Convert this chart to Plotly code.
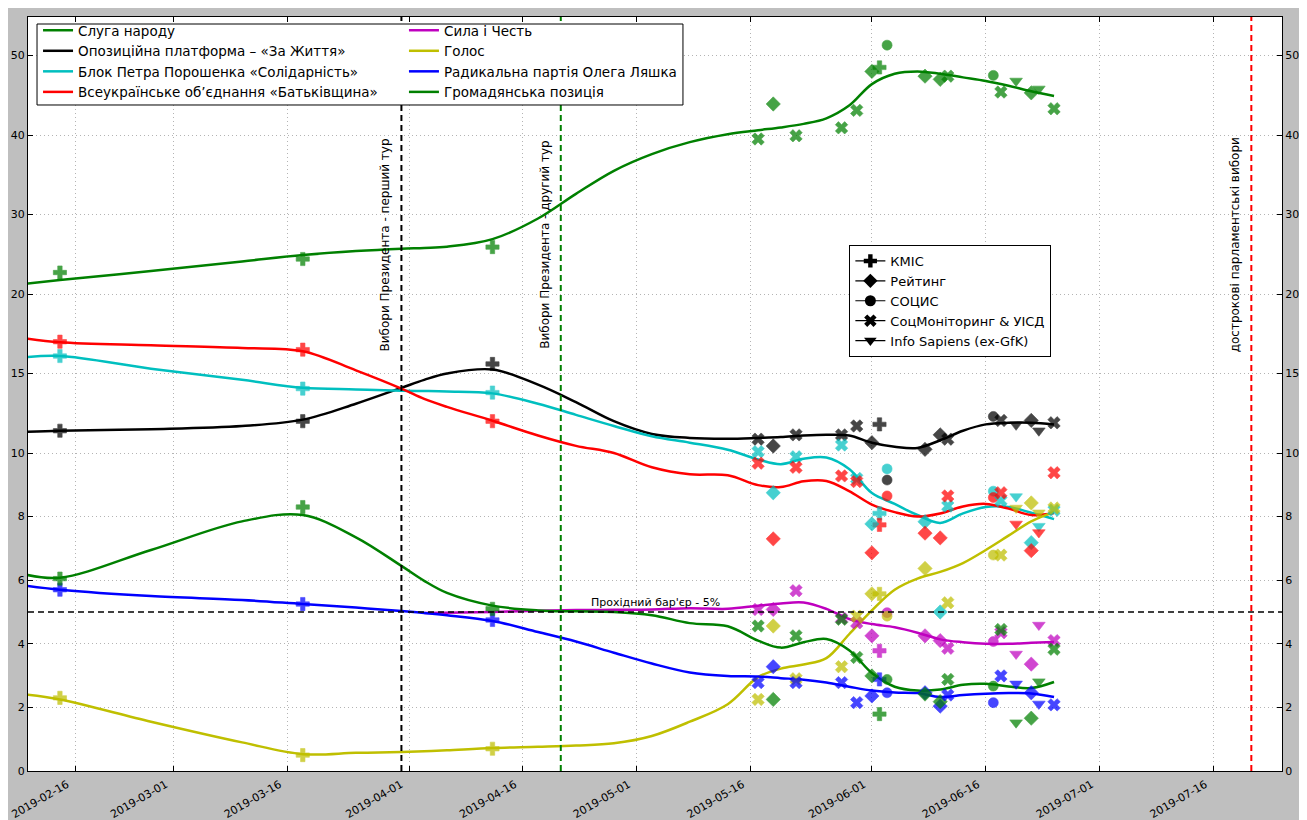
import plotly.graph_objects as go

# ---------------- data ----------------
parties = [
    "Слуга народу",
    "Опозиційна платформа – «За Життя»",
    "Блок Петра Порошенка «Солідарність»",
    "Всеукраїнське об’єднання «Батьківщина»",
    "Сила і Честь",
    "Голос",
    "Радикальна партія Олега Ляшка",
    "Громадянська позиція",
]
colors = ["#008000", "#000000", "#00BFBF", "#FF0000", "#BF00BF", "#BFBF00", "#0000FF", "#008000"]

line_dates = ["2019-02-09", "2019-02-14", "2019-02-26", "2019-03-10", "2019-03-18", "2019-03-25",
              "2019-03-31", "2019-04-03", "2019-04-06", "2019-04-12", "2019-04-18", "2019-04-23",
              "2019-04-28", "2019-05-03", "2019-05-08", "2019-05-13", "2019-05-17", "2019-05-20",
              "2019-05-23", "2019-05-26", "2019-05-29", "2019-06-01", "2019-06-04", "2019-06-07",
              "2019-06-10", "2019-06-13", "2019-06-16", "2019-06-19", "2019-06-22", "2019-06-25"]

line_sluha = [21.25, 21.75, 22.9, 24.1, 24.9, 25.4, 25.7, 25.8, 25.95, 26.9, 29.5, 32.6, 35.5, 37.6, 39.1,
              40.1, 40.6, 40.95, 41.4, 42.1, 43.7, 46.4, 47.7, 48.0, 47.7, 47.25, 46.8, 46.2, 45.5, 44.9]
line_opzzh = [11.33, 11.4, 11.5, 11.7, 12.1, 13.1, 14.1, 14.6, 15.0, 15.25, 14.3, 13.2, 12.0, 11.2, 10.95,
              10.9, 10.95, 11.0, 11.1, 11.15, 11.1, 10.65, 10.4, 10.32, 10.8, 11.4, 11.8, 11.9, 11.9, 11.8]
line_bpp = [16.0, 16.1, 15.3, 14.6, 14.1, 14.0, 13.92, 13.9, 13.87, 13.75, 13.1, 12.4, 11.7, 11.05, 10.65,
            10.2, 9.8, 9.65, 9.82, 9.86, 9.5, 8.74, 8.4, 8.05, 7.8, 8.1, 8.3, 8.3, 8.12, 7.92]
line_batk = [17.24, 16.96, 16.77, 16.6, 16.4, 15.2, 14.05, 13.4, 12.9, 12.03, 11.1, 10.45, 10.0, 9.55, 9.33,
             9.3, 8.99, 8.93, 9.11, 9.12, 8.8, 8.38, 8.14, 8.0, 8.1, 8.32, 8.4, 8.25, 8.05, 8.11]
line_sila = [None, None, None, None, None, None, None, 4.97, 4.98, 5.0, 5.04, 5.06, 5.07, 5.08, 5.12,
             5.1, 5.2, 5.27, 5.3, 5.1, 4.78, 4.62, 4.52, 4.35, 4.14, 4.05, 4.0, 4.0, 4.03, 4.06]
line_holos = [2.42, 2.25, 1.55, 0.9, 0.53, 0.57, 0.6, 0.62, 0.65, 0.72, 0.76, 0.8, 0.87, 1.1, 1.55,
              2.1, 2.95, 3.22, 3.35, 3.55, 4.3, 5.05, 5.7, 6.05, 6.26, 6.54, 6.95, 7.4, 7.85, 8.15]
line_rad = [5.84, 5.7, 5.5, 5.38, 5.25, 5.14, 5.03, 4.97, 4.9, 4.72, 4.37, 4.07, 3.72, 3.38, 3.1,
            2.99, 2.97, 2.92, 2.87, 2.78, 2.65, 2.53, 2.47, 2.45, 2.33, 2.39, 2.43, 2.45, 2.44, 2.33]
line_hrom = [6.2, 6.08, 6.95, 7.85, 8.05, 7.35, 6.45, 5.98, 5.6, 5.2, 5.05, 5.02, 5.0, 4.9, 4.65,
             4.55, 4.1, 3.88, 4.05, 4.15, 3.8, 3.08, 2.65, 2.53, 2.56, 2.71, 2.74, 2.66, 2.61, 2.8]
line_values = [line_sluha, line_opzzh, line_bpp, line_batk, line_sila, line_holos, line_rad, line_hrom]

# polls: values per party in the order of `parties`
kmis_dates = ["2019-02-14", "2019-03-18", "2019-04-12", "2019-06-02"]
kmis_values = [
    [22.7, 24.4, 25.9, 48.5],
    [11.4, 12.0, 15.6, 11.8],
    [16.1, 14.05, 13.8, 8.1],
    [17.0, 16.5, 12.0, 7.74],
    [None, None, None, 3.78],
    [2.3, 0.5, 0.7, 5.57],
    [5.7, 5.25, 4.75, 2.88],
    [6.05, 8.3, 5.1, 1.79],
]
reytynh_dates = ["2019-05-19", "2019-06-01", "2019-06-08", "2019-06-10", "2019-06-22"]
reytynh_values = [
    [43.9, 48.0, 47.4, 47.0, 45.3],
    [10.44, 10.65, 10.23, 11.14, 12.05],
    [8.75, 7.77, 7.84, 5.0, 7.18],
    [7.3, 6.86, 7.48, 7.33, 6.93],
    [5.08, 4.25, 4.25, 4.1, 3.36],
    [4.56, 5.57, 6.37, None, 8.43],
    [3.28, 2.36, 2.46, 2.04, 2.46],
    [2.25, 2.99, 2.42, 2.18, 1.66],
]
sotsis_dates = ["2019-06-03", "2019-06-17"]
sotsis_values = [
    [51.3, 47.5],
    [9.15, 12.3],
    [9.5, 8.8],
    [8.65, 8.6],
    [4.98, 4.07],
    [4.87, 6.79],
    [2.46, 2.15],
    [2.88, 2.67],
]
socmon_dates = ["2019-05-17", "2019-05-22", "2019-05-28", "2019-05-30", "2019-06-11", "2019-06-18", "2019-06-25"]
socmon_values = [
    [39.5, 39.9, 40.9, 43.1, 47.4, 45.4, 43.3],
    [10.87, 11.14, 11.14, 11.7, 10.87, 12.05, 11.9],
    [10.08, 9.88, 10.5, 9.2, 8.33, 8.5, 8.2],
    [9.68, 9.55, 9.28, 9.1, 8.65, 8.75, 9.38],
    [5.08, 5.67, 4.8, 4.66, 3.86, 4.35, 4.1],
    [2.25, 2.9, 3.28, 4.87, 5.29, 6.79, 8.27],
    [2.78, 2.78, 2.78, 2.15, 2.39, 2.99, 2.08],
    [4.56, 4.25, 4.77, 3.57, 2.88, 4.45, 3.83],
]
infosap_dates = ["2019-06-20", "2019-06-23"]
infosap_values = [
    [46.8, 45.8],
    [11.77, 11.4],
    [8.63, 7.7],
    [7.77, 7.5],
    [3.68, 4.59],
    [8.27, 8.12],
    [2.74, 2.11],
    [1.52, 2.81],
]

pollsters = ["КМІС", "Рейтинг", "СОЦИС", "СоцМоніторинг & УІСД", "Info Sapiens (ex-GfK)"]
poll_symbols = ["cross", "diamond", "circle", "x", "triangle-down"]
poll_dates = [kmis_dates, reytynh_dates, sotsis_dates, socmon_dates, infosap_dates]
poll_values = [kmis_values, reytynh_values, sotsis_values, socmon_values, infosap_values]

y_tick_values = [0, 2, 4, 6, 8, 10, 15, 20, 30, 40, 50]
x_tick_dates = ["2019-02-16", "2019-03-01", "2019-03-16", "2019-04-01", "2019-04-16", "2019-05-01",
                "2019-05-16", "2019-06-01", "2019-06-16", "2019-07-01", "2019-07-16"]

event_dates = ["2019-03-31", "2019-04-21", "2019-07-21"]
event_labels = ["Вибори Президента - перший тур", "Вибори Президента - другий тур",
                "дострокові парламентські вибори"]
event_colors = ["#000000", "#008000", "#FF0000"]
barrier = 5
barrier_label = "Прохідний бар'єр - 5%"


# piecewise scale of the original axis: 0-10 linear, 10-20 half, 20-50 quarter
def scale(v):
    if v is None:
        return None
    if v <= 10:
        return v
    if v <= 20:
        return 10 + (v - 10) / 2
    return 15 + (v - 20) / 4


def sc(vals):
    return [scale(v) for v in vals]


FONT = "DejaVu Sans"
fig = go.Figure()

# smoothed party lines
for i, name in enumerate(parties):
    fig.add_trace(go.Scatter(
        x=line_dates, y=sc(line_values[i]), mode="lines", name=name,
        line=dict(color=colors[i], width=2.5, shape="spline", smoothing=1.0),
        legend="legend" if i < 4 else "legend2", hoverinfo="skip"))

# poll markers
for p, pname in enumerate(pollsters):
    for i, name in enumerate(parties):
        fig.add_trace(go.Scatter(
            x=poll_dates[p], y=sc(poll_values[p][i]), mode="markers", showlegend=False,
            marker=dict(symbol=poll_symbols[p], size=11 if poll_symbols[p] != "circle" else 10,
                        color=colors[i], opacity=0.72,
                        line=dict(color=colors[i], width=0.6)),
            name=f"{pname}: {name}"))

# pollster legend entries
for p, pname in enumerate(pollsters):
    fig.add_trace(go.Scatter(
        x=[None], y=[None], mode="lines+markers", name=pname, legend="legend3",
        marker=dict(symbol=poll_symbols[p], size=11, color="black"),
        line=dict(color="black", width=1.2)))

# invisible trace for the right axis
fig.add_trace(go.Scatter(x=[line_dates[0]], y=[0], yaxis="y2", mode="markers",
                         marker=dict(opacity=0), showlegend=False, hoverinfo="skip"))

shapes = []
for d, c in zip(event_dates, event_colors):
    shapes.append(dict(type="line", xref="x", yref="paper", x0=d, x1=d, y0=0, y1=1,
                       line=dict(color=c, width=2, dash="6px,4px"), layer="above"))
shapes.append(dict(type="line", xref="paper", yref="y", x0=0, x1=1, y0=scale(barrier), y1=scale(barrier),
                   line=dict(color="black", width=1.5, dash="6px,4px"), layer="above"))
# frame of the party legend
shapes.append(dict(type="rect", xref="paper", yref="paper", x0=0.0072, x1=0.5223, y0=0.8833, y1=0.9907,
                   line=dict(color="black", width=1), fillcolor="white", layer="above"))

annotations = []
for d, t in zip(event_dates, event_labels):
    annotations.append(dict(x=d, y=0.6976, xref="x", yref="paper", text=t, showarrow=False,
                            textangle=-90, xshift=-16, xanchor="center", yanchor="middle",
                            font=dict(family=FONT, size=12, color="black")))
annotations.append(dict(x="2019-05-03 12:00", y=scale(barrier), xref="x", yref="y", text=barrier_label,
                        showarrow=False, yanchor="bottom", yshift=1,
                        font=dict(family=FONT, size=11, color="black")))

ytickvals = [scale(v) for v in y_tick_values]
yticktext = [str(v) for v in y_tick_values]
yr = [0, (771 - 17) / 31.8]

axis_common = dict(showline=True, linecolor="black", linewidth=1, ticks="inside", ticklen=5,
                   tickcolor="black", automargin=False,
                   tickfont=dict(family=FONT, size=11, color="black"))
grid_common = dict(showgrid=True, gridcolor="#B4B4B4", griddash="1px,3px", gridwidth=1)

# the page body adds an 8px offset, so the figure is 8px smaller and margins shifted
fig.update_layout(
    width=1299, height=812,
    margin=dict(l=20, r=25, t=9, b=49, autoexpand=False),
    paper_bgcolor="#BFBFBF", plot_bgcolor="white",
    font=dict(family=FONT, color="black"),
    xaxis=dict(range=["2019-02-09 19:00", "2019-07-25 01:00"], type="date",
               tickvals=x_tick_dates, ticktext=x_tick_dates, tickangle=-30,
               ticklabelshift=-8, ticklabelstandoff=2,
               mirror="ticks", zeroline=False, **grid_common, **axis_common),
    yaxis=dict(range=yr, tickvals=ytickvals, ticktext=yticktext, zeroline=False,
               mirror=True, **grid_common, **axis_common),
    yaxis2=dict(range=yr, tickvals=ytickvals, ticktext=yticktext, overlaying="y", side="right",
                showgrid=False, zeroline=False, **axis_common),
    legend=dict(x=0.008, y=1.0027, xanchor="left", yanchor="top", bgcolor="rgba(0,0,0,0)",
                font=dict(family=FONT, size=13.5, color="black"), tracegroupgap=0),
    legend2=dict(x=0.2998, y=1.0027, xanchor="left", yanchor="top", bgcolor="rgba(0,0,0,0)",
                 font=dict(family=FONT, size=13.5, color="black"), tracegroupgap=0),
    legend3=dict(x=0.655, y=0.6976, xanchor="left", yanchor="top", bgcolor="white",
                 bordercolor="black", borderwidth=1,
                 font=dict(family=FONT, size=13, color="black"), tracegroupgap=0),
    shapes=shapes, annotations=annotations, showlegend=True,
)

fig.write_html("out.html")
